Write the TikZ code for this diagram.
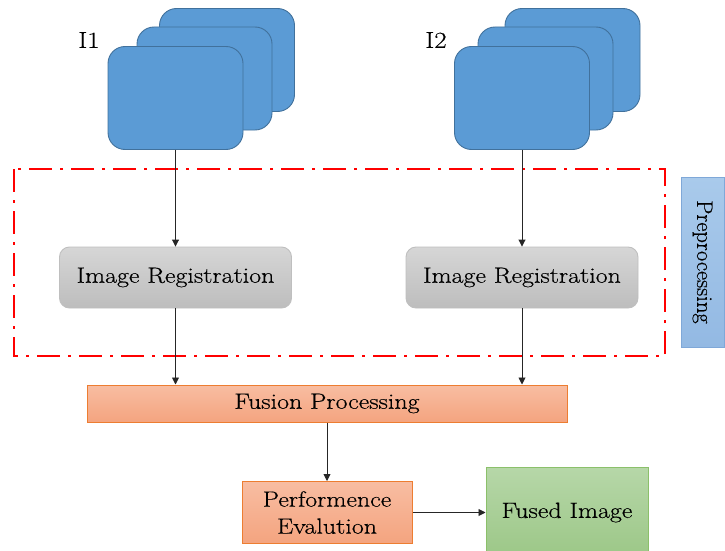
\documentclass[tikz,border=0pt]{standalone}
\usepackage{fontspec}
\newfontfamily\widefont{Latin Modern Roman}[FakeStretch=1.18, FakeBold=0.4]
\newfontfamily\plainfont{Latin Modern Roman}[FakeBold=0.4]
\usetikzlibrary{arrows.meta}
\definecolor{stackfill}{HTML}{5B9BD5}
\definecolor{stackline}{HTML}{41719C}
\definecolor{regtop}{HTML}{D6D6D6}
\definecolor{regbot}{HTML}{BDBDBD}
\definecolor{regline}{HTML}{BFBFBF}
\definecolor{ortop}{HTML}{F8BDA2}
\definecolor{orbot}{HTML}{F4A47F}
\definecolor{orline}{HTML}{ED7D31}
\definecolor{grtop}{HTML}{B6D7A8}
\definecolor{grbot}{HTML}{9CC787}
\definecolor{grline}{HTML}{8BC06A}
\definecolor{prtop}{HTML}{A9CAEB}
\definecolor{prbot}{HTML}{93B9E3}
\definecolor{prline}{HTML}{7FA8D8}
\tikzset{
  stackbox/.style={draw=stackline, line width=0.9pt, fill=stackfill, rounded corners=17pt,
    minimum width=135pt, minimum height=103pt, inner sep=0pt},
  regbox/.style={draw=regline, line width=0.9pt, top color=regtop, bottom color=regbot,
    rounded corners=10pt, minimum width=232pt, minimum height=61pt, inner sep=0pt,
    font=\widefont\fontsize{22}{26}\selectfont},
  orbox/.style={draw=orline, line width=1pt, top color=ortop, bottom color=orbot,
    inner sep=0pt, font=\widefont\fontsize{22}{26}\selectfont},
  lbl/.style={font=\widefont\fontsize{23}{27}\selectfont, inner sep=0pt},
  arr/.style={-{Triangle[length=7pt,width=7pt]}, line width=0.9pt, black!85},
}
\begin{document}
\begin{tikzpicture}[x=1pt,y=-1pt]
\useasboundingbox (0,0) rectangle (725,551);
\clip (0,0) rectangle (725,551);
% I1 stack
\node[stackbox] (b1) at (227,60) {};
\node[stackbox] (m1) at (204.5,78.5) {};
\node[stackbox] (f1) at (175.5,98) {};
\node[lbl] (l1) at (89,40) {I1};
% I2 stack
\node[stackbox] (b2) at (572.5,60) {};
\node[stackbox] (m2) at (545.5,78.5) {};
\node[stackbox] (f2) at (522,98) {};
\node[lbl] (l2) at (436,40) {I2};
% preprocessing frame
\draw[red, line width=2.2pt, dash pattern=on 23pt off 8pt on 3pt off 8pt] (14,169) rectangle (665,356);
\node[draw=prline, line width=0.9pt, top color=prtop, bottom color=prbot, minimum width=170pt,
  minimum height=43pt, inner sep=0pt, rotate=-90, font=\plainfont\fontsize{22.5}{26}\selectfont] (pre) at (702.5,262) {Preprocessing};
% registration
\node[regbox] (r1) at (175.5,277.5) {Image Registration};
\node[regbox] (r2) at (522,277.5) {Image Registration};
% fusion
\node[orbox, minimum width=480pt, minimum height=37pt] (fu) at (327,403.5) {Fusion Processing};
\node[orbox, minimum width=170pt, minimum height=62pt, align=center,
  font=\widefont\fontsize{22}{27}\selectfont] (pe) at (327,512.5) {Performence\\Evalution};
\node[draw=grline, line width=1pt, top color=grtop, bottom color=grbot, minimum width=162pt,
  minimum height=90pt, inner sep=0pt, font=\widefont\fontsize{22}{26}\selectfont] (fi) at (567,512.5) {Fused Image};
% connectors
\draw[arr] (f1.south) -- (r1.north);
\draw[arr] (f2.south) -- (r2.north);
\draw[arr] (r1.south) -- (r1.south |- fu.north);
\draw[arr] (r2.south) -- (r2.south |- fu.north);
\draw[arr] (fu.south) -- (pe.north);
\draw[arr] (pe.east) -- (fi.west);
\end{tikzpicture}
\end{document}
